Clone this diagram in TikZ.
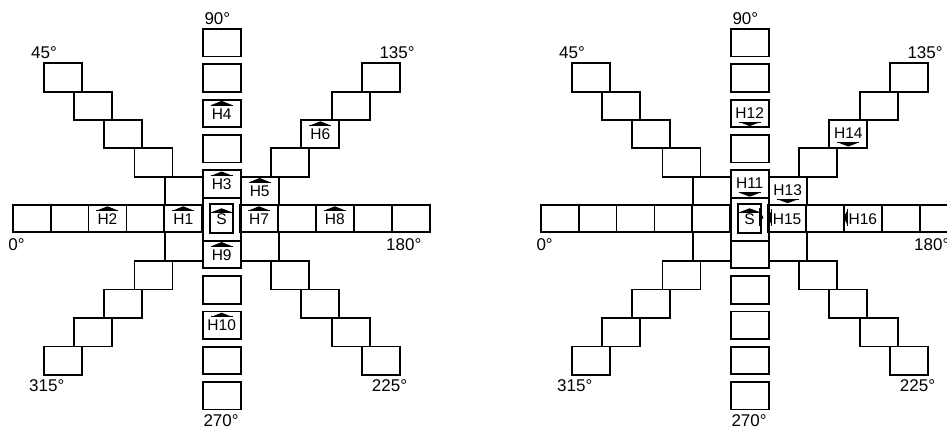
\documentclass[tikz,border=0pt]{standalone}
\usepackage{fontspec}
\setmainfont{Liberation Sans}
\usetikzlibrary{calc}
\tikzset{
  cell/.style={draw, line width=1.8pt, inner sep=0pt, outer sep=0pt, anchor=north west, minimum width=38pt},
  hlbl/.style={font=\fontsize{15.5}{15.5}\selectfont, inner sep=0pt, anchor=base},
  deglbl/.style={font=\fontsize{17}{17}\selectfont, inner sep=0pt, anchor=base west},
  barline/.style={line width=1pt},
}
% #1 prefix, #2 x offset
\newcommand\gridcells[2]{%
  \foreach \i in {0,1,2,3,4,6,7,8,9,10}{\node[cell,minimum width=37.9pt,minimum height=27.3pt] (#1r\i) at ({12.7+37.9*\i+#2},205) {};}
  \foreach \k in {0,1,2,3,4,6,7,8,9,10}{\node[cell,minimum height=27.5pt] (#1c\k) at ({202.7+#2},{29+35.3*\k}) {};}
  \node[cell,minimum height=43.1pt] (#1so) at ({202.7+#2},197.7) {};
  \node[cell,minimum width=23.3pt,minimum height=28.4pt] (#1si) at ({210+#2},204.3) {};
  \foreach \j in {0,...,4}{
    \node[cell,minimum height=28.35pt] (#1tl\j) at ({164.7-30.25*\j+#2},{176.7-28.35*\j}) {};
    \node[cell,minimum height=28.35pt] (#1tr\j) at ({240.7+30.3*\j+#2},{176.7-28.35*\j}) {};
    \node[cell,minimum height=28.55pt] (#1bl\j) at ({164.7-30.25*\j+#2},{232.3+28.55*\j}) {};
    \node[cell,minimum height=28.55pt] (#1br\j) at ({240.7+30.3*\j+#2},{232.3+28.55*\j}) {};
  }
  \node[deglbl] (#1d90) at ({204.3+#2},24.3) {90°};
  \node[deglbl] (#1d45) at ({31+#2},58.3) {45°};
  \node[deglbl] (#1d135) at ({379.3+#2},58.3) {135°};
  \node[deglbl] (#1d0) at ({8.3+#2},250.7) {0°};
  \node[deglbl] (#1d180) at ({386+#2},250.7) {180°};
  \node[deglbl] (#1d315) at ({29+#2},391.7) {315°};
  \node[deglbl] (#1d225) at ({371.7+#2},391.7) {225°};
  \node[deglbl] (#1d270) at ({203.3+#2},426) {270°};
  % S with up hat
  \node[hlbl] (#1S) at ($(#1si.north)+(0,20)$) {S};
  \fill ($(#1si.north)+(-10.5,8)$) -- ($(#1si.north)+(0,4)$) -- ($(#1si.north)+(10.5,8)$) -- cycle;
  \draw[barline] ($(#1si.north)+(-11,8)$) -- ($(#1si.north)+(11,8)$);
}
% #1 cell, #2 text, #3 node name
\newcommand\upcell[3]{%
  \node[hlbl] (#3) at ($(#1.north)+(0,19.5)$) {#2};
  \fill ($(#1.north)+(-10.5,5.5)$) -- ($(#1.north)+(0,1.3)$) -- ($(#1.north)+(10.5,5.5)$) -- cycle;
  \draw[barline] ($(#1.north)+(-11,5.5)$) -- ($(#1.north)+(11,5.5)$);}
\newcommand\downcell[3]{%
  \node[hlbl] (#3) at ($(#1.north)+(0,18.5)$) {#2};
  \draw[barline] ($(#1.north)+(-11,22.5)$) -- ($(#1.north)+(11,22.5)$);
  \fill ($(#1.north)+(-10.5,22.5)$) -- ($(#1.north)+(0,26.5)$) -- ($(#1.north)+(10.5,22.5)$) -- cycle;}
\newcommand\leftcell[3]{%
  \node[hlbl] (#3) at ($(#1.north)+(0,19.5)$) {#2};
  \draw[barline] ($(#1.north)+(-15.3,4)$) -- ($(#1.north)+(-15.3,21)$);
  \fill ($(#1.north)+(-15.3,5)$) -- ($(#1.north)+(-19.3,12.5)$) -- ($(#1.north)+(-15.3,20)$) -- cycle;}
\begin{document}
\begin{tikzpicture}[x=1pt,y=-1pt]
  \useasboundingbox (0,0) rectangle (947,428);
  \clip (0,0) rectangle (947,428);
  \gridcells{L}{0}
  \gridcells{R}{528}
  % left diagram labels
  \upcell{Lr4}{H1}{LH1}
  \upcell{Lr2}{H2}{LH2}
  \upcell{Lc4}{H3}{LH3}
  \upcell{Lc2}{H4}{LH4}
  \upcell{Ltr0}{H5}{LH5}
  \upcell{Ltr2}{H6}{LH6}
  \upcell{Lr6}{H7}{LH7}
  \upcell{Lr8}{H8}{LH8}
  \upcell{Lc6}{H9}{LH9}
  \upcell{Lc8}{H10}{LH10}
  % right diagram labels
  \downcell{Rc4}{H11}{RH11}
  \downcell{Rc2}{H12}{RH12}
  \downcell{Rtr0}{H13}{RH13}
  \downcell{Rtr2}{H14}{RH14}
  \leftcell{Rr6}{H15}{RH15}
  \leftcell{Rr8}{H16}{RH16}
  % right-pointing mark at S
  \draw[barline] ($(Rsi.north east)+(-2,4)$) -- ($(Rsi.north east)+(-2,22)$);
  \fill ($(Rsi.north east)+(-2,6)$) -- ($(Rsi.north east)+(2,13)$) -- ($(Rsi.north east)+(-2,20)$) -- cycle;
\end{tikzpicture}
\end{document}
